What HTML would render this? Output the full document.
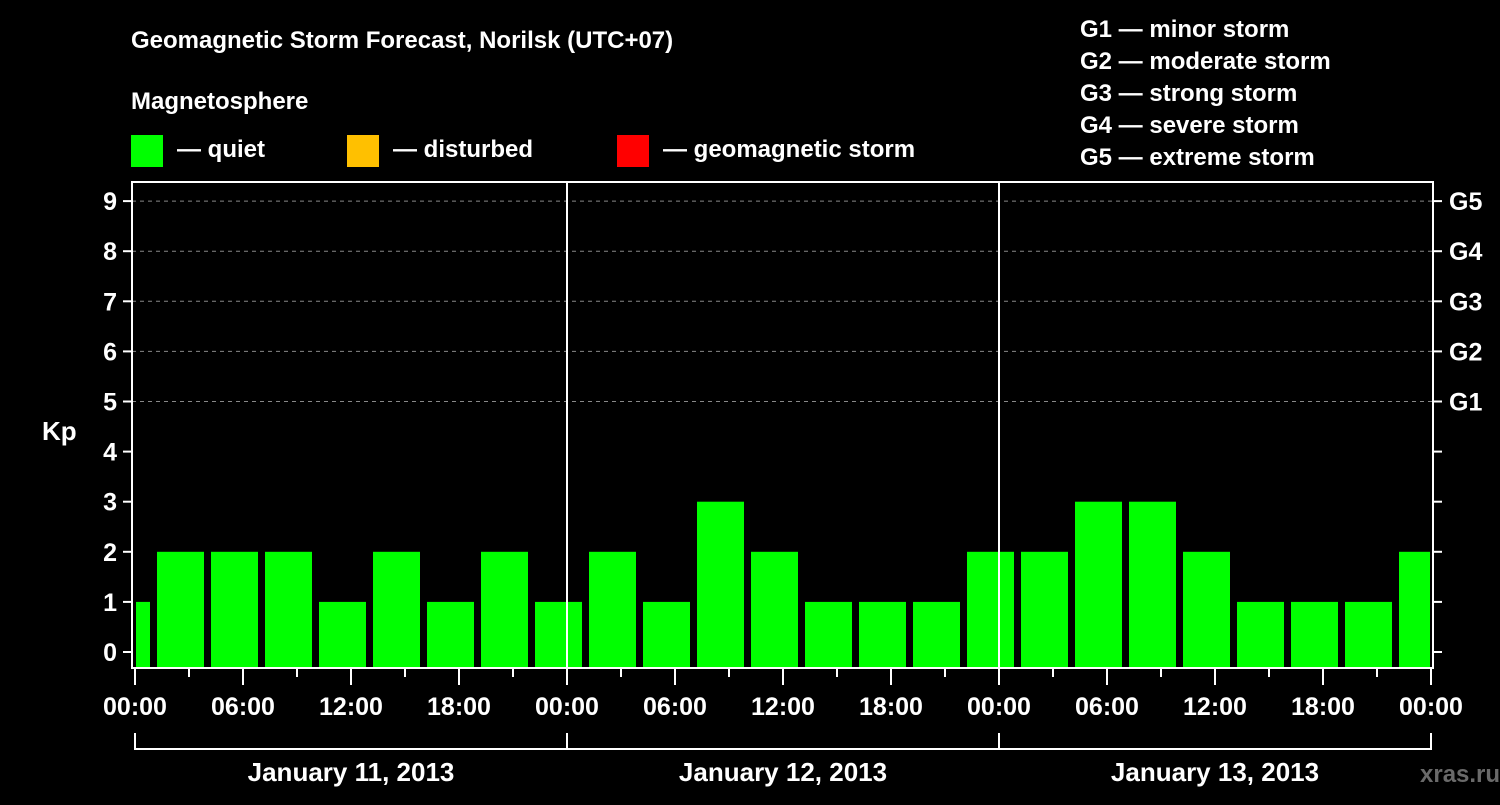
<!DOCTYPE html>
<html><head><meta charset="utf-8"><style>
body{margin:0;background:#000;}
svg text{font-family:"Liberation Sans",Arial,sans-serif;font-weight:bold;fill:#fff;}
</style></head><body>
<svg id="c" width="1500" height="800" xmlns="http://www.w3.org/2000/svg">
<rect width="1500" height="800" fill="#000"/>
<text x="131" y="48" font-size="24">Geomagnetic Storm Forecast, Norilsk (UTC+07)</text>
<text x="131" y="109" font-size="24">Magnetosphere</text>
<g><rect x="131" y="135" width="32" height="32" fill="#00ff00"/><text x="177" y="157" font-size="24">— quiet</text></g>
<g><rect x="347" y="135" width="32" height="32" fill="#ffc000"/><text x="393" y="157" font-size="24">— disturbed</text></g>
<g><rect x="617" y="135" width="32" height="32" fill="#ff0000"/><text x="663" y="157" font-size="24">— geomagnetic storm</text></g>
<g font-size="24">
<text x="1080" y="37">G1 — minor storm</text>
<text x="1080" y="69">G2 — moderate storm</text>
<text x="1080" y="101">G3 — strong storm</text>
<text x="1080" y="133">G4 — severe storm</text>
<text x="1080" y="165">G5 — extreme storm</text>
</g>
<text x="42" y="440" font-size="26">Kp</text>
<text x="1420" y="782" font-size="24" fill="#666" style="fill:#6a6a6a">xras.ru</text>
<g id="plot"></g>
</svg>
<script>
const kpValues=[1,2,2,2,1,2,1,2,1,2,1,3,2,1,1,1,2,2,3,3,2,1,1,1,2];
const dayLabels=["January 11, 2013","January 12, 2013","January 13, 2013"];
const hourLabels=["00:00","06:00","12:00","18:00"];
const gLabels=["G1","G2","G3","G4","G5"];
const NS="http://www.w3.org/2000/svg";
const L=132,R=1433,T=182,B=668,X0=135,DAY=432;
const xh=h=>X0+h*DAY/24;
const yk=k=>652-k*50.1;
const p=document.getElementById('plot');
function mk(t,a,par){const e=document.createElementNS(NS,t);for(const k in a)e.setAttribute(k,a[k]);(par||p).appendChild(e);return e;}
// grid
for(let k=5;k<=9;k++){const g=mk('line',{x1:L,x2:R,y1:yk(k),y2:yk(k),stroke:'#888','stroke-dasharray':'4,4','stroke-width':1});

}
// bars
kpValues.forEach((v,i)=>{let l=xh(3*i)-32,r=l+47;l=Math.max(l,L+4);r=Math.min(r,R-3);
const c=v>=5?'#ff0000':(v>=4?'#ffc000':'#00ff00');
const b=mk('rect',{x:l,y:yk(v),width:r-l,height:B-yk(v),fill:c});

});
// day separators
for(let d=1;d<3;d++){const s=mk('line',{x1:xh(24*d),x2:xh(24*d),y1:T,y2:B,stroke:'#fff','stroke-width':2});

}
// frame
const f=mk('rect',{x:L,y:T,width:R-L,height:B-T,fill:'none',stroke:'#fff','stroke-width':2});


// y ticks
for(let k=0;k<=9;k++){const y=yk(k);
mk('line',{x1:L-9,x2:L,y1:y,y2:y,stroke:'#fff','stroke-width':2});
mk('line',{x1:R,x2:R+9,y1:y,y2:y,stroke:'#fff','stroke-width':2});
const t=mk('text',{x:L-15,y:y+9,'text-anchor':'end','font-size':25});t.textContent=k;

}
gLabels.forEach((g,i)=>{const t=mk('text',{x:1449,y:yk(5+i)+9,'font-size':25});t.textContent=g;

});
// x ticks
for(let h=0;h<=72;h+=3){const x=xh(h),maj=h%6===0;
mk('line',{x1:x,x2:x,y1:B,y2:maj?685:677,stroke:'#fff','stroke-width':2});
if(maj){const t=mk('text',{x:x,y:715,'text-anchor':'middle','font-size':25});t.textContent=hourLabels[(h/6)%4];

}}
// day brackets
mk('line',{x1:xh(0),x2:xh(72),y1:749,y2:749,stroke:'#fff','stroke-width':2});
for(let d=0;d<=3;d++)mk('line',{x1:xh(24*d),x2:xh(24*d),y1:733,y2:750,stroke:'#fff','stroke-width':2});
dayLabels.forEach((s,d)=>{const t=mk('text',{x:xh(24*d+12),y:781,'text-anchor':'middle','font-size':26});t.textContent=s;

});
</script>
</body></html>
